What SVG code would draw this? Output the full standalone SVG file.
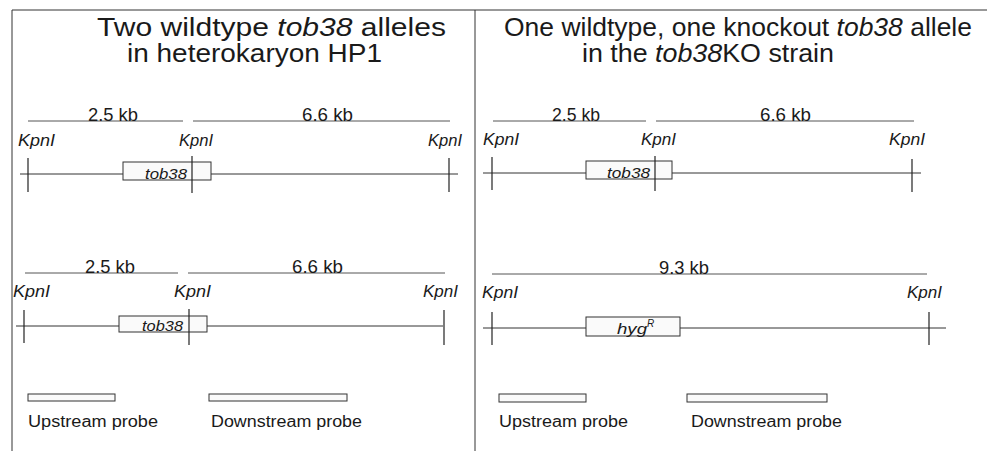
<svg xmlns="http://www.w3.org/2000/svg" width="988" height="451" viewBox="0 0 988 451">
<style>
text{font-family:"Liberation Sans",Arial,sans-serif;fill:#1a1a1a}
.title{font-size:25px}
.kb{font-size:18px}
.kp{font-size:16px;font-style:italic}
.gene{font-size:15px;font-style:italic}
.lab{font-size:16px}
.frame{stroke:#333;stroke-width:1;fill:none}
.scale{stroke:#555;stroke-width:1}
.strand{stroke:#333;stroke-width:1}
.tick{stroke:#222;stroke-width:1.2}
.box{fill:#fafafa;stroke:#333;stroke-width:1}
</style>
<g id="frame">
<line class="frame" x1="12" y1="10" x2="987" y2="10"/>
<line class="frame" x1="12" y1="10" x2="12" y2="451"/>
<line class="frame" x1="475" y1="10" x2="475" y2="451"/>
</g>
<g id="titles">
<text class="title" x="97" y="36" textLength="349" lengthAdjust="spacingAndGlyphs">Two wildtype <tspan font-style="italic">tob38</tspan> alleles</text>
<text class="title" x="127" y="62" textLength="255" lengthAdjust="spacingAndGlyphs">in heterokaryon HP1</text>
<text class="title" x="504" y="36" textLength="468" lengthAdjust="spacingAndGlyphs">One wildtype, one knockout <tspan font-style="italic">tob38</tspan> allele</text>
<text class="title" x="582" y="62" textLength="252" lengthAdjust="spacingAndGlyphs">in the <tspan font-style="italic">tob38</tspan>KO strain</text>
</g>
<g id="connectors">
<line class="scale" x1="28" y1="121" x2="183" y2="121"/>
<line class="scale" x1="193" y1="121" x2="450" y2="121"/>
<line class="strand" x1="20" y1="174" x2="458" y2="174"/>
<line class="scale" x1="25" y1="273" x2="178" y2="273"/>
<line class="scale" x1="188" y1="273" x2="445" y2="273"/>
<line class="strand" x1="16" y1="326" x2="443" y2="326"/>
<line class="scale" x1="493" y1="121" x2="646" y2="121"/>
<line class="scale" x1="656" y1="121" x2="914" y2="121"/>
<line class="strand" x1="483" y1="173" x2="921" y2="173"/>
<line class="scale" x1="492" y1="274" x2="927" y2="274"/>
<line class="strand" x1="483" y1="328" x2="946" y2="328"/>
</g>
<g id="allele-left-top">
<text class="kb" x="88" y="121" textLength="50" lengthAdjust="spacingAndGlyphs">2.5 kb</text>
<text class="kb" x="302" y="121" textLength="51" lengthAdjust="spacingAndGlyphs">6.6 kb</text>
<text class="kp" x="18" y="146" textLength="37" lengthAdjust="spacingAndGlyphs">KpnI</text>
<text class="kp" x="179" y="146" textLength="34" lengthAdjust="spacingAndGlyphs">KpnI</text>
<text class="kp" x="428" y="146" textLength="34" lengthAdjust="spacingAndGlyphs">KpnI</text>
<rect class="box" x="123" y="162" width="88" height="18"/>
<text class="gene" x="145" y="179" textLength="42" lengthAdjust="spacingAndGlyphs">tob38</text>
<line class="tick" x1="28" y1="158" x2="28" y2="192"/>
<line class="tick" x1="192" y1="156" x2="192" y2="193"/>
<line class="tick" x1="449" y1="158" x2="449" y2="192"/>
</g>
<g id="allele-left-bottom">
<text class="kb" x="85" y="273" textLength="50" lengthAdjust="spacingAndGlyphs">2.5 kb</text>
<text class="kb" x="292" y="273" textLength="51" lengthAdjust="spacingAndGlyphs">6.6 kb</text>
<text class="kp" x="13" y="297" textLength="37" lengthAdjust="spacingAndGlyphs">KpnI</text>
<text class="kp" x="174" y="297" textLength="37" lengthAdjust="spacingAndGlyphs">KpnI</text>
<text class="kp" x="423" y="297" textLength="35" lengthAdjust="spacingAndGlyphs">KpnI</text>
<rect class="box" x="119" y="316" width="88" height="16"/>
<text class="gene" x="142" y="331" textLength="41" lengthAdjust="spacingAndGlyphs">tob38</text>
<line class="tick" x1="24" y1="310" x2="24" y2="343"/>
<line class="tick" x1="189" y1="309" x2="189" y2="345"/>
<line class="tick" x1="444" y1="310" x2="444" y2="345"/>
</g>
<g id="allele-right-top">
<text class="kb" x="552" y="121" textLength="48" lengthAdjust="spacingAndGlyphs">2.5 kb</text>
<text class="kb" x="760" y="121" textLength="51" lengthAdjust="spacingAndGlyphs">6.6 kb</text>
<text class="kp" x="483" y="145" textLength="36" lengthAdjust="spacingAndGlyphs">KpnI</text>
<text class="kp" x="641" y="145" textLength="35" lengthAdjust="spacingAndGlyphs">KpnI</text>
<text class="kp" x="889" y="145" textLength="36" lengthAdjust="spacingAndGlyphs">KpnI</text>
<rect class="box" x="586" y="161" width="86" height="18"/>
<text class="gene" x="607" y="178" textLength="43" lengthAdjust="spacingAndGlyphs">tob38</text>
<line class="tick" x1="492" y1="157" x2="492" y2="190"/>
<line class="tick" x1="655" y1="156" x2="655" y2="191"/>
<line class="tick" x1="912" y1="159" x2="912" y2="192"/>
</g>
<g id="allele-right-bottom">
<text class="kb" x="659" y="274" textLength="50" lengthAdjust="spacingAndGlyphs">9.3 kb</text>
<text class="kp" x="482" y="298" textLength="36" lengthAdjust="spacingAndGlyphs">KpnI</text>
<text class="kp" x="907" y="298" textLength="35" lengthAdjust="spacingAndGlyphs">KpnI</text>
<rect class="box" x="586" y="317" width="94" height="19"/>
<text class="gene" x="617" y="334"><tspan textLength="30" lengthAdjust="spacingAndGlyphs">hyg</tspan><tspan font-size="10" dy="-7">R</tspan></text>
<line class="tick" x1="492" y1="312" x2="492" y2="345"/>
<line class="tick" x1="929" y1="312" x2="929" y2="345"/>
</g>
<g id="probes-left">
<rect class="box" x="28" y="394" width="87" height="7"/>
<rect class="box" x="209" y="394" width="138" height="7"/>
<text class="lab" x="28" y="427" textLength="130" lengthAdjust="spacingAndGlyphs">Upstream probe</text>
<text class="lab" x="211" y="427" textLength="151" lengthAdjust="spacingAndGlyphs">Downstream probe</text>
</g>
<g id="probes-right">
<rect class="box" x="499" y="394" width="87" height="8"/>
<rect class="box" x="687" y="394" width="140" height="8"/>
<text class="lab" x="499" y="427" textLength="129" lengthAdjust="spacingAndGlyphs">Upstream probe</text>
<text class="lab" x="691" y="427" textLength="151" lengthAdjust="spacingAndGlyphs">Downstream probe</text>
</g>
</svg>
